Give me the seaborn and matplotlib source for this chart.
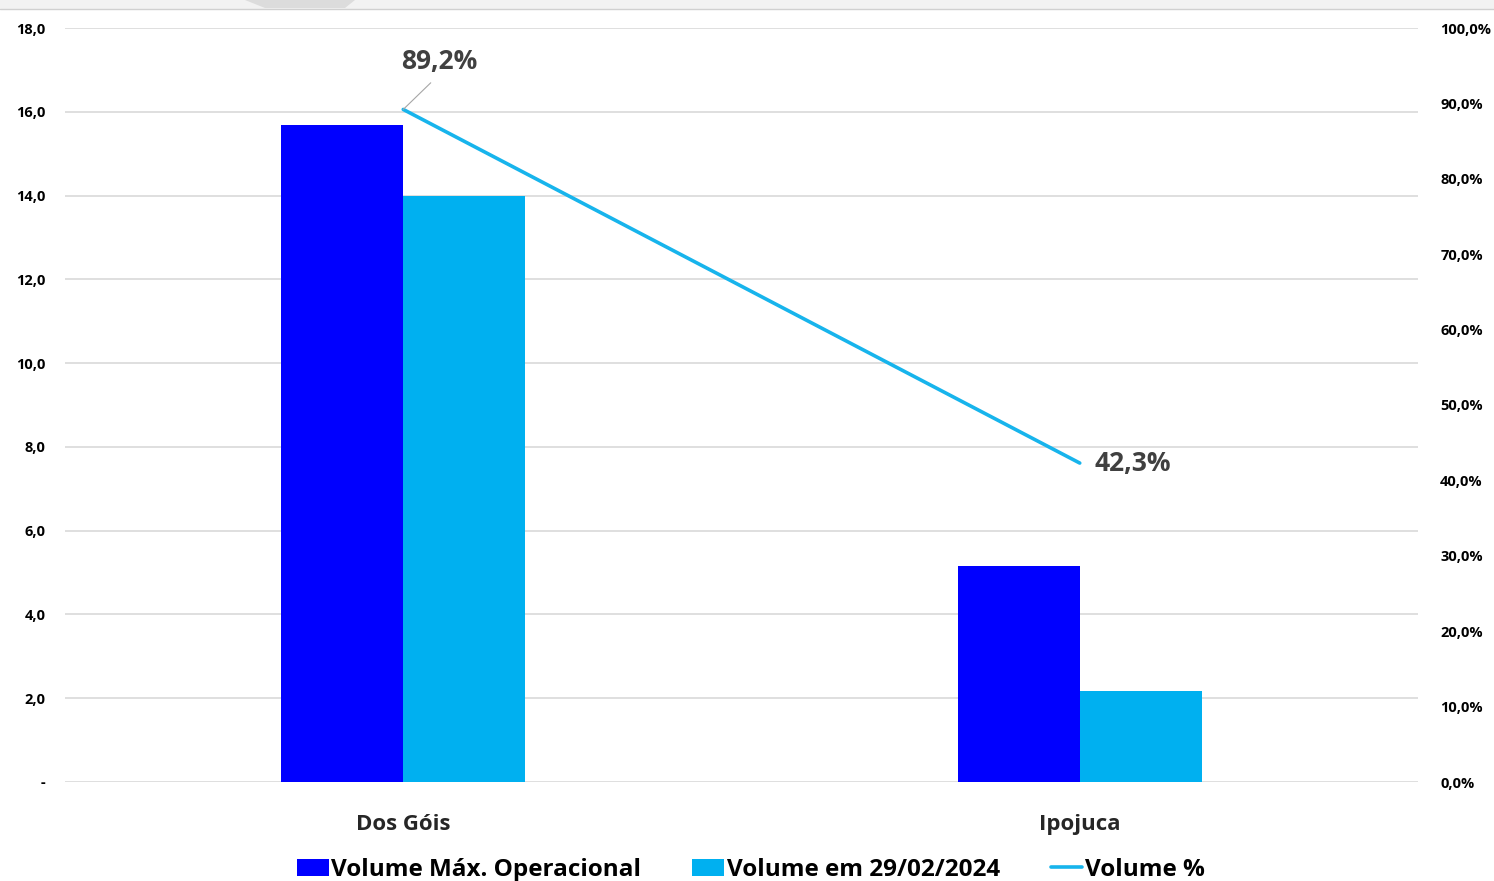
import numpy as np
import pandas as pd
import matplotlib
matplotlib.use("Agg")
import matplotlib.pyplot as plt
from matplotlib.patches import Patch, Rectangle, Polygon
from matplotlib.lines import Line2D
import seaborn as sns

categories = ["Dos Góis", "Ipojuca"]
vol_max = [15.68, 5.16]
vol_atual = [13.99, 2.18]
vol_pct = [89.2, 42.3]
series_names = ["Volume Máx. Operacional", "Volume em 29/02/2024", "Volume %"]
left_ticks = [0, 2, 4, 6, 8, 10, 12, 14, 16, 18]
right_ticks = [0, 10, 20, 30, 40, 50, 60, 70, 80, 90, 100]

c_dark = "#0000FF"
c_light = "#00B0F0"
c_line = "#17B4EC"

sns.set_theme(style="white")
plt.rcParams["font.family"] = ["Open Sans", "DejaVu Sans"]

df = pd.DataFrame({
    "cat": categories * 2,
    "val": vol_max + vol_atual,
    "serie": [series_names[0]] * 2 + [series_names[1]] * 2,
})

fig = plt.figure(figsize=(14.94, 8.81), dpi=100)
ax = fig.add_axes([65 / 1494, 1 - 782 / 881, (1418 - 65) / 1494, (782 - 28) / 881])

# top decorative band
fig.patches.append(Rectangle((0, 1 - 9 / 881), 1, 9 / 881, transform=fig.transFigure,
                             facecolor="#f2f2f2", edgecolor="none", zorder=0))
fig.patches.append(Polygon([[245 / 1494, 1], [265 / 1494, 1 - 8 / 881], [345 / 1494, 1 - 8 / 881], [355 / 1494, 1]],
                           closed=True, transform=fig.transFigure, facecolor="#dcdcdc", edgecolor="none"))
fig.lines.append(Line2D([0, 1], [1 - 9 / 881, 1 - 9 / 881], transform=fig.transFigure, color="#d0d0d0", lw=1))

sns.barplot(data=df, x="cat", y="val", hue="serie", palette=[c_dark, c_light],
            width=0.36, gap=0, ax=ax, legend=False, saturation=1, zorder=3, linewidth=0)
ax.set_xlim(-0.5, 1.5)
ax.set_ylim(0, 18)
ax.set_yticks(left_ticks)
ax.set_yticklabels(["-" if t == 0 else f"{t:.1f}".replace(".", ",") for t in left_ticks],
                   fontsize=10.5, fontweight="bold", color="#000000")
ax.yaxis.grid(True, color="#d9d9d9", lw=1.2, zorder=0)
ax.set_axisbelow(True)
ax.set_xlabel("")
ax.set_ylabel("")
ax.tick_params(axis="x", length=0, pad=23, labelsize=16)
for lbl in ax.get_xticklabels():
    lbl.set_fontweight("bold")
    lbl.set_color("#262626")
ax.tick_params(axis="y", length=0, pad=14)
for s in ax.spines.values():
    s.set_visible(False)

ax2 = ax.twinx()
xpos = np.arange(len(categories))
sns.lineplot(x=xpos, y=vol_pct, color=c_line, lw=2.6, ax=ax2, legend=False)
ax2.set_ylim(0, 100)
ax2.set_yticks(right_ticks)
ax2.set_yticklabels([f"{t:.1f}%".replace(".", ",") for t in right_ticks], fontsize=10.5,
                    fontweight="bold", color="#000000")
ax2.tick_params(axis="y", length=0, pad=16)
for s in ax2.spines.values():
    s.set_visible(False)
ax2.set_ylabel("")

# data labels
ax2.annotate(f"{vol_pct[0]:.1f}%".replace(".", ","), xy=(xpos[0], vol_pct[0]), xytext=(xpos[0] + 0.053, vol_pct[0] + 6.4),
             ha="center", va="center", fontsize=19, fontweight="bold", color="#404040",
             arrowprops=dict(arrowstyle="-", color="#a6a6a6", lw=0.8, relpos=(0.5, 0.0),
                             shrinkA=5, shrinkB=0))
ax2.annotate(f"{vol_pct[1]:.1f}%".replace(".", ","), xy=(xpos[1], vol_pct[1]), xytext=(xpos[1] + 0.078, vol_pct[1]),
             ha="center", va="center", fontsize=19, fontweight="bold", color="#404040")

handles = [Patch(facecolor=c_dark, edgecolor="none"),
           Patch(facecolor=c_light, edgecolor="none"),
           Line2D([0], [0], color=c_line, lw=2.6)]
leg = fig.legend(handles, series_names, loc="center", bbox_to_anchor=(751 / 1494, 1 - 870 / 881),
                 ncol=3, frameon=False, fontsize=17.5, handlelength=1.3, handleheight=0.75,
                 handletextpad=0.1, columnspacing=2.1)
for t in leg.get_texts():
    t.set_fontweight("bold")
    t.set_color("#000000")

fig.savefig("out.png", dpi=100)
